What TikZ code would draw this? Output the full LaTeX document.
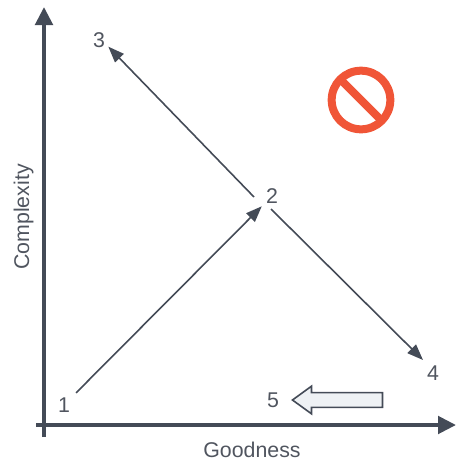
\documentclass[tikz,border=0pt]{standalone}
\usepackage{fontspec}
\setmainfont{Liberation Sans}
\usetikzlibrary{arrows.meta,shapes.arrows}
\definecolor{tinta}{HTML}{444B57}
\definecolor{texto}{HTML}{50555F}
\definecolor{aviso}{HTML}{F05537}
\definecolor{relleno}{HTML}{EEF1F4}

\begin{document}
\begin{tikzpicture}[x=0.75pt,y=-0.75pt,font=\fontsize{16}{19}\selectfont,text=texto,>={Triangle[length=13.5pt,width=13pt]},
 eje/.style={->,draw=tinta,line width=3pt},
 flecha/.style={-{Triangle[length=12pt,width=9pt]},draw=tinta,line width=1.2pt},
 etiqueta/.style={inner sep=0pt,minimum size=15pt},
 bloque/.style={single arrow,draw=tinta,fill=relleno,line width=1.2pt,shape border rotate=180,minimum height=67.5pt,inner sep=4.9pt,single arrow head extend=4.9pt,single arrow tip angle=72}]
\useasboundingbox (0,0) rectangle (456,461);
\coordinate (origeny) at (44,437);
\coordinate (topey) at (44,7);
\coordinate (origenx) at (36,425);
\coordinate (topex) at (456,425);
\draw[eje] (origeny)--(topey);
\draw[eje] (origenx)--(topex);
\node[etiqueta] (uno) at (64,405) {1};
\node[etiqueta] (dos) at (272,196) {2};
\node[etiqueta] (tres) at (99,40) {3};
\node[etiqueta] (cuatro) at (433,373) {4};
\node[etiqueta] (cinco) at (273,400) {5};
\draw[flecha,shorten <=2pt] (uno)--(dos);
\draw[flecha] ([xshift=-13.5pt,yshift=-0.75pt]dos.center)--([xshift=7pt,yshift=-5pt]tres.center);
\draw[flecha] ([xshift=-0.75pt,yshift=-9.75pt]dos.center)--([xshift=-7.5pt,yshift=9.75pt]cuatro.center);
\node[bloque] (retroceso) at (342.5,400) {};
\node[rotate=90] (complejidad) at (23.5,217) {Complexity};
\node (bondad) at (252,450) {Goodness};
% senal de prohibido
\draw[aviso,line width=6pt] (361,100) circle (22pt);
\draw[aviso,line width=6pt] (340.3,79.3)--(381.7,120.7);
\end{tikzpicture}
\end{document}
